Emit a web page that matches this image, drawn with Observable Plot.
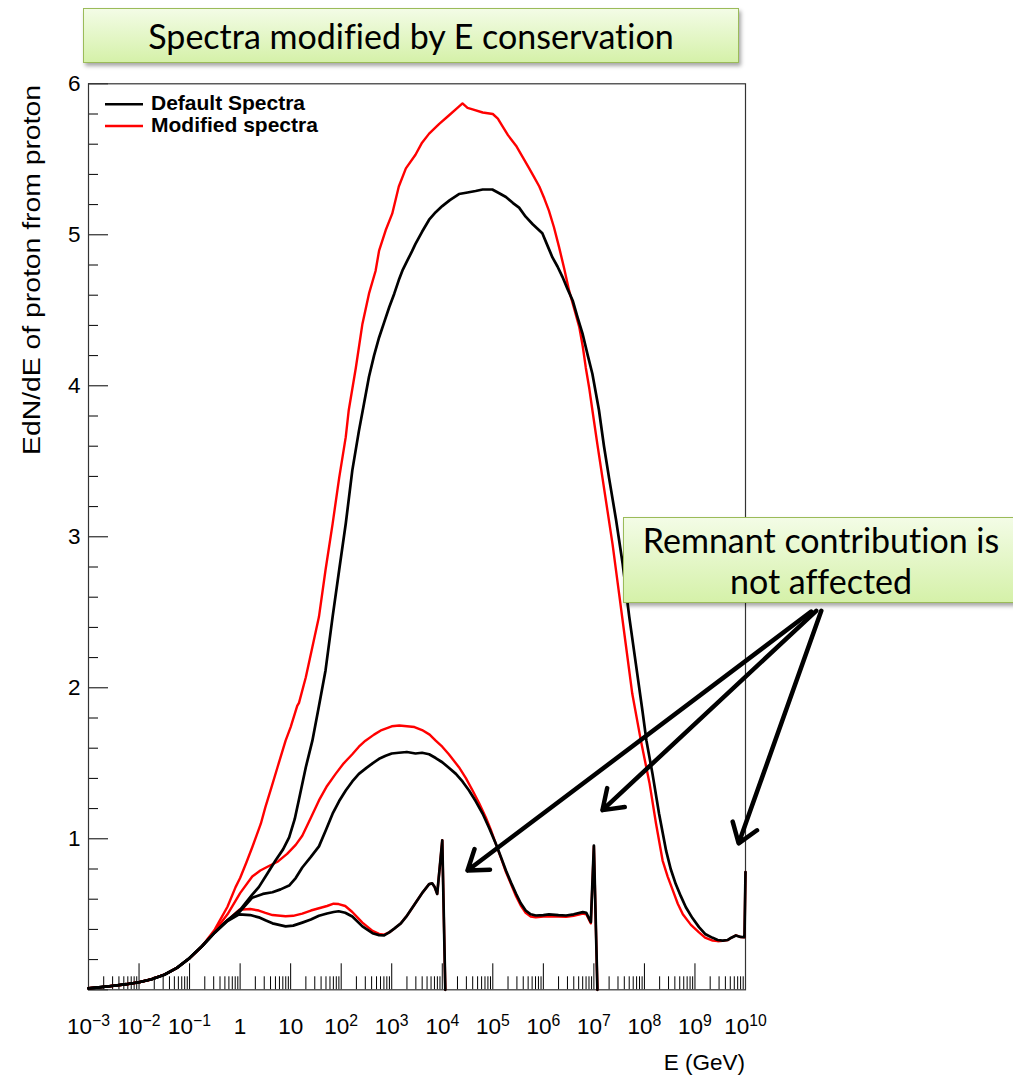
<!DOCTYPE html>
<html>
<head>
<meta charset="utf-8">
<script src="https://cdn.jsdelivr.net/npm/d3@7"></script>
<script src="https://cdn.jsdelivr.net/npm/@observablehq/plot@0.6"></script>
<style>
  body { margin: 0; background: #fff; width: 1013px; height: 1076px; overflow: hidden; position: relative; }
  #chart { position: absolute; left: 0; top: 0; }
  .callout {
    position: absolute; box-sizing: border-box;
    border: 1.5px solid #9bbb59;
    background: linear-gradient(#f3fce6, #d5f1a9);
    box-shadow: 2px 3px 4px rgba(0, 0, 0, 0.35);
    font-family: Lato, "Open Sans", sans-serif; color: #000; text-align: center;
    font-variant-ligatures: none; font-feature-settings: "liga" 0, "dlig" 0;
  }
</style>
</head>
<body>
<div id="chart"></div>
<div class="callout" style="left:83px;top:8px;width:656px;height:55px;font-size:34px;line-height:53px;">Spectra modified by E conservation</div>
<div class="callout" style="left:623px;top:517px;width:396px;height:86px;font-size:34px;line-height:41px;padding-top:1px;">Remnant contribution is<br>not affected</div>
<script>
// Proton spectra from proton primaries at E0 = 1e4, 1e7 and 1e10 GeV.
// Values are EdN/dE at log10(E / GeV).

// Low-energy part shared by every spectrum
const sharedLogE = [-3, -2.75, -2.5, -2.25, -2, -1.75, -1.5, -1.25, -1, -0.75];
const sharedVal  = [0.01, 0.018, 0.027, 0.037, 0.05, 0.07, 0.10, 0.145, 0.21, 0.29];

// E0 = 1e4 GeV, default
const logE_def_1e4 = [-0.5, -0.25, -0.02, 0.2, 0.37, 0.5, 0.64, 0.9, 1.05, 1.23, 1.4, 1.56, 1.72, 1.85, 1.95, 2.08, 2.22, 2.42, 2.62, 2.75, 2.85, 2.95, 3.05, 3.18, 3.3, 3.47, 3.6, 3.74, 3.8, 3.85, 3.9, 4.0, 4.06];
const val_def_1e4  = [0.38, 0.455, 0.50, 0.495, 0.48, 0.46, 0.44, 0.42, 0.425, 0.445, 0.465, 0.49, 0.505, 0.515, 0.52, 0.51, 0.485, 0.42, 0.375, 0.362, 0.36, 0.38, 0.405, 0.44, 0.49, 0.575, 0.64, 0.70, 0.705, 0.68, 0.635, 0.99, 0];
// E0 = 1e4 GeV, modified
const logE_mod_1e4 = [-0.5, -0.25, -0.02, 0.2, 0.37, 0.5, 0.64, 0.9, 1.05, 1.23, 1.4, 1.56, 1.72, 1.85, 1.95, 2.08, 2.22, 2.42, 2.62, 2.75, 2.85, 2.95, 3.05, 3.18, 3.3, 3.47, 3.6, 3.74, 3.8, 3.85, 3.9, 4.0, 4.06];
const val_mod_1e4  = [0.385, 0.46, 0.53, 0.535, 0.525, 0.51, 0.495, 0.487, 0.49, 0.505, 0.525, 0.54, 0.555, 0.57, 0.568, 0.555, 0.515, 0.445, 0.39, 0.37, 0.365, 0.38, 0.405, 0.44, 0.49, 0.575, 0.64, 0.70, 0.705, 0.68, 0.635, 0.99, 0];

// E0 = 1e7 GeV, default
const logE_def_1e7 = [-0.5, -0.25, 0, 0.24, 0.45, 0.64, 0.8, 0.97, 1.1, 1.23, 1.4, 1.56, 1.7, 1.83, 1.96, 2.09, 2.22, 2.35, 2.5, 2.62, 2.75, 2.88, 3.0, 3.14, 3.3, 3.47, 3.6, 3.74, 3.87, 4.0, 4.13, 4.27, 4.4, 4.53, 4.66, 4.8, 4.93, 5.06, 5.16, 5.26, 5.36, 5.46, 5.55, 5.65, 5.75, 5.85, 6.0, 6.11, 6.3, 6.45, 6.6, 6.78, 6.85, 6.94, 7.0, 7.07];
const val_def_1e7  = [0.38, 0.46, 0.52, 0.61, 0.635, 0.646, 0.665, 0.69, 0.74, 0.81, 0.88, 0.95, 1.06, 1.166, 1.25, 1.32, 1.38, 1.43, 1.47, 1.50, 1.53, 1.55, 1.565, 1.57, 1.575, 1.565, 1.57, 1.56, 1.535, 1.507, 1.47, 1.43, 1.38, 1.32, 1.25, 1.166, 1.07, 0.967, 0.88, 0.79, 0.71, 0.636, 0.575, 0.525, 0.50, 0.492, 0.495, 0.499, 0.494, 0.492, 0.50, 0.514, 0.51, 0.448, 0.955, 0];
// E0 = 1e7 GeV, modified
const logE_mod_1e7 = [-0.5, -0.25, 0, 0.24, 0.4, 0.57, 0.75, 0.93, 1.1, 1.23, 1.4, 1.56, 1.72, 1.89, 2.05, 2.22, 2.35, 2.48, 2.65, 2.8, 3.0, 3.15, 3.3, 3.45, 3.6, 3.75, 3.87, 4.0, 4.13, 4.33, 4.47, 4.6, 4.73, 4.86, 4.96, 5.06, 5.16, 5.26, 5.36, 5.46, 5.55, 5.65, 5.75, 5.85, 6.0, 6.11, 6.3, 6.45, 6.6, 6.78, 6.85, 6.94, 7.0, 7.07];
const val_mod_1e7  = [0.39, 0.50, 0.64, 0.75, 0.79, 0.82, 0.85, 0.90, 0.96, 1.02, 1.14, 1.254, 1.35, 1.43, 1.50, 1.56, 1.61, 1.65, 1.69, 1.72, 1.745, 1.75, 1.745, 1.74, 1.72, 1.69, 1.65, 1.61, 1.56, 1.474, 1.40, 1.32, 1.235, 1.143, 1.06, 0.967, 0.875, 0.78, 0.70, 0.62, 0.56, 0.51, 0.485, 0.48, 0.485, 0.487, 0.485, 0.483, 0.49, 0.505, 0.50, 0.44, 0.95, 0];

// E0 = 1e10 GeV, default
const logE_def_1e10 = [-0.5, -0.25, 0, 0.24, 0.37, 0.54, 0.7, 0.85, 0.97, 1.08, 1.16, 1.3, 1.43, 1.56, 1.69, 1.83, 1.96, 2.09, 2.22, 2.35, 2.45, 2.55, 2.65, 2.75, 2.85, 2.95, 3.05, 3.14, 3.22, 3.31, 3.4, 3.47, 3.6, 3.74, 3.87, 4.0, 4.15, 4.33, 4.5, 4.66, 4.8, 4.99, 5.1, 5.26, 5.4, 5.52, 5.65, 5.79, 5.98, 6.08, 6.18, 6.28, 6.38, 6.48, 6.58, 6.68, 6.78, 6.88, 6.97, 7.04, 7.1, 7.2, 7.3, 7.44, 7.57, 7.7, 7.83, 7.96, 8.04, 8.16, 8.29, 8.43, 8.52, 8.62, 8.72, 8.82, 8.95, 9.08, 9.2, 9.35, 9.45, 9.55, 9.65, 9.72, 9.81, 9.9, 9.98, 10.0];
const val_def_1e10  = [0.38, 0.46, 0.53, 0.63, 0.68, 0.77, 0.856, 0.93, 1.01, 1.13, 1.254, 1.474, 1.65, 1.88, 2.115, 2.47, 2.78, 3.086, 3.44, 3.70, 3.88, 4.06, 4.20, 4.32, 4.42, 4.52, 4.61, 4.70, 4.77, 4.83, 4.89, 4.94, 5.02, 5.10, 5.15, 5.19, 5.23, 5.27, 5.28, 5.29, 5.30, 5.30, 5.28, 5.25, 5.21, 5.18, 5.12, 5.07, 5.01, 4.93, 4.85, 4.79, 4.72, 4.64, 4.565, 4.45, 4.34, 4.20, 4.08, 3.95, 3.84, 3.60, 3.39, 3.11, 2.82, 2.47, 2.16, 1.85, 1.65, 1.43, 1.166, 0.92, 0.80, 0.70, 0.62, 0.547, 0.475, 0.415, 0.37, 0.344, 0.33, 0.326, 0.33, 0.345, 0.36, 0.35, 0.348, 0.78];
// E0 = 1e10 GeV, modified
const logE_mod_1e10 = [-0.5, -0.42, -0.25, -0.09, 0, 0.12, 0.24, 0.41, 0.5, 0.62, 0.74, 0.9, 1.0, 1.13, 1.165, 1.3, 1.43, 1.56, 1.69, 1.83, 1.96, 2.09, 2.15, 2.29, 2.42, 2.55, 2.68, 2.75, 2.88, 3.01, 3.14, 3.28, 3.47, 3.6, 3.74, 3.94, 4.13, 4.3, 4.4, 4.5, 4.6, 4.8, 5.0, 5.1, 5.19, 5.3, 5.46, 5.6, 5.72, 5.82, 5.92, 6.02, 6.11, 6.21, 6.31, 6.41, 6.51, 6.61, 6.71, 6.78, 6.84, 6.91, 6.97, 7.07, 7.17, 7.27, 7.37, 7.5, 7.63, 7.76, 7.93, 8.1, 8.23, 8.36, 8.46, 8.56, 8.66, 8.76, 8.92, 9.08, 9.2, 9.35, 9.45, 9.55, 9.65, 9.72, 9.81, 9.9, 9.98, 10.0];
const val_mod_1e10  = [0.40, 0.448, 0.55, 0.68, 0.74, 0.84, 0.944, 1.10, 1.21, 1.34, 1.474, 1.65, 1.74, 1.88, 1.90, 2.07, 2.27, 2.47, 2.78, 3.086, 3.39, 3.66, 3.84, 4.12, 4.41, 4.61, 4.76, 4.895, 5.03, 5.14, 5.32, 5.44, 5.53, 5.61, 5.67, 5.735, 5.79, 5.84, 5.87, 5.84, 5.83, 5.81, 5.80, 5.77, 5.72, 5.66, 5.59, 5.51, 5.44, 5.38, 5.32, 5.24, 5.16, 5.05, 4.92, 4.78, 4.63, 4.51, 4.39, 4.26, 4.12, 3.98, 3.84, 3.61, 3.39, 3.17, 2.95, 2.62, 2.29, 1.96, 1.65, 1.37, 1.10, 0.856, 0.75, 0.66, 0.57, 0.50, 0.43, 0.38, 0.345, 0.326, 0.322, 0.324, 0.33, 0.345, 0.36, 0.35, 0.348, 0.78];

// Legend entries and their colours
const spectrumNames  = ["Default Spectra", "Modified spectra"];
const spectrumColors = ["#000000", "#ff0000"];

// Axis ticks
const xExponents = d3.range(-3, 11);                       // 1e-3 … 1e10 GeV
const yMajorTicks = [0, 1, 2, 3, 4, 5, 6];
const yLabelTicks = [1, 2, 3, 4, 5, 6];

// Callout arrows (log10 E, value) from the note box to the remnant peaks
const arrowFromLogE = [11.30, 11.40, 11.50];
const arrowFromVal  = [2.505, 2.51, 2.51];
const arrowToLogE   = [4.50, 7.17, 9.865];
const arrowToVal    = [0.79, 1.19, 0.97];

// ---- build tables ----
const spectra = [
  {name: spectrumNames[1], id: "mod-1e4",  logE: logE_mod_1e4,  val: val_mod_1e4},
  {name: spectrumNames[1], id: "mod-1e7",  logE: logE_mod_1e7,  val: val_mod_1e7},
  {name: spectrumNames[1], id: "mod-1e10", logE: logE_mod_1e10, val: val_mod_1e10},
  {name: spectrumNames[0], id: "def-1e4",  logE: logE_def_1e4,  val: val_def_1e4},
  {name: spectrumNames[0], id: "def-1e7",  logE: logE_def_1e7,  val: val_def_1e7},
  {name: spectrumNames[0], id: "def-1e10", logE: logE_def_1e10, val: val_def_1e10}
];
const rows = spectra.flatMap(s => {
  const L = sharedLogE.concat(s.logE), V = sharedVal.concat(s.val);
  return L.map((l, i) => ({id: s.id, spectrum: s.name, E: Math.pow(10, l), y: V[i]}));
});
const xMajor = xExponents.map(n => Math.pow(10, n));
const xMinor = xExponents.slice(0, -1).flatMap(n => d3.range(2, 10).map(k => k * Math.pow(10, n)));
const yMinor = d3.range(0, 30).map(i => i * 0.2).filter(v => Math.abs(v - Math.round(v)) > 1e-6);
const arrows = arrowFromLogE.map((l, i) => ({
  x1: Math.pow(10, l), y1: arrowFromVal[i], x2: Math.pow(10, arrowToLogE[i]), y2: arrowToVal[i]
}));
const expLabel = d => {
  const n = Math.round(Math.log10(d));
  return n === 0 ? "1" : n === 1 ? "10" : "10^" + n;
};

const font = "'Liberation Sans', Arial, Helvetica, sans-serif";

const chart = Plot.plot({
  width: 1013,
  height: 1076,
  marginLeft: 88,
  marginRight: 268,
  marginTop: 83.3,
  marginBottom: 86.7,
  x: {type: "log", domain: [1e-3, 1e10], label: null},
  y: {domain: [0, 6], label: null},
  color: {domain: spectrumNames, range: spectrumColors},
  style: {fontFamily: font, fontSize: "22px", color: "#000", background: "#fff", overflow: "visible"},
  marks: [
    // inward ticks, ROOT style
    Plot.axisX({ticks: xMinor, tickSize: -13, tickFormat: () => "", label: null, strokeWidth: 1}),
    Plot.axisX({ticks: xMajor, tickSize: -26, tickFormat: () => "", label: null, strokeWidth: 1}),
    Plot.axisX({ticks: xMajor, tickSize: 0, tickPadding: 28, tickFormat: expLabel, label: null, fontSize: 22.5}),
    Plot.axisY({ticks: yMinor, tickSize: -10, tickFormat: () => "", label: null, strokeWidth: 1}),
    Plot.axisY({ticks: yMajorTicks, tickSize: -20, tickFormat: () => "", label: null, strokeWidth: 1}),
    Plot.axisY({ticks: yLabelTicks, tickSize: 0, tickPadding: 8, tickFormat: d => String(d), label: null, fontSize: 22.5}),
    Plot.frame({stroke: "#333", strokeWidth: 1.2}),
    Plot.line(rows.filter(d => d.spectrum === spectrumNames[1]), {x: "E", y: "y", z: "id", stroke: "spectrum", strokeWidth: 2.4}),
    Plot.line(rows.filter(d => d.spectrum === spectrumNames[0]), {x: "E", y: "y", z: "id", stroke: "spectrum", strokeWidth: 2.7}),
    Plot.arrow(arrows, {x1: "x1", y1: "y1", x2: "x2", y2: "y2", stroke: "#000", strokeWidth: 4.5, headLength: 7.5, headAngle: 70})
  ]
});

document.getElementById("chart").appendChild(chart);
const svg = d3.select(chart);

// superscript exponents on the energy labels
svg.selectAll('[aria-label="x-axis tick label"] text').each(function () {
  const t = d3.select(this);
  const s = t.text();
  if (s.startsWith("10^")) {
    t.text("10");
    t.append("tspan").attr("dy", "-0.5em").attr("font-size", "0.7em").text(s.slice(3).replace("-", "\u2212"));
  }
});

// axis titles
const yTitle = svg.append("text")
  .attr("text-anchor", "end")
  .attr("font-family", font).attr("font-size", 23.5)
  .text("EdN/dE of proton from proton");
const naturalLength = yTitle.node().getComputedTextLength();
yTitle.attr("transform", `translate(40,85) rotate(-90) scale(${370 / naturalLength},1)`);

svg.append("text")
  .attr("x", 745).attr("y", 1070)
  .attr("text-anchor", "end")
  .attr("font-family", font).attr("font-size", 22.5)
  .text("E (GeV)");

// legend
const legend = svg.append("g")
  .attr("font-family", font).attr("font-weight", "bold").attr("font-size", 21)
  .attr("text-anchor", "start");
spectrumNames.forEach((name, i) => {
  const y = 104.3 + i * 21.7;
  legend.append("line").attr("x1", 105).attr("x2", 143).attr("y1", y).attr("y2", y)
    .attr("stroke", spectrumColors[i]).attr("stroke-width", 2.4);
  legend.append("text").attr("x", 151).attr("y", y + 5.5).text(name);
});
</script>
</body>
</html>
